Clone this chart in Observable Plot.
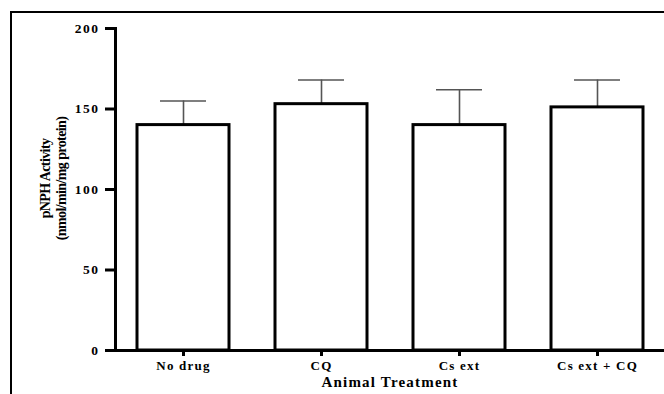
<!DOCTYPE html>
<html>
<head>
<meta charset="utf-8">
<script src="https://cdn.jsdelivr.net/npm/d3@7"></script>
<script src="https://cdn.jsdelivr.net/npm/@observablehq/plot@0.6"></script>
<style>
  html, body { margin: 0; padding: 0; background: #fff; overflow: hidden; }
  #wrap { position: relative; width: 664px; height: 394px; }
  #frame { position: absolute; left: 10px; top: 11px; width: 700px; height: 400px;
           border-left: 2.5px solid #000; border-top: 2.5px solid #000; box-sizing: border-box; }
  #chart { position: absolute; left: 0; top: 0; }
</style>
</head>
<body>
<div id="wrap"><div id="frame"></div><div id="chart"></div></div>
<script>
const categories = ["No drug", "CQ", "Cs ext", "Cs ext + CQ"];
const means = [140, 153, 140, 151];
const errors = [15, 15, 22, 17];
const yTicks = [0, 50, 100, 150, 200];
const yLabel = "pNPH Activity\n(nmol/min/mg protein)";
const xLabel = "Animal Treatment";

const data = categories.map((c, i) => ({cat: c, mean: means[i], top: means[i] + errors[i]}));

const chart = Plot.plot({
  width: 664,
  height: 394,
  marginLeft: 115,
  marginRight: 0,
  marginTop: 28,
  marginBottom: 44,
  style: {fontFamily: "'Liberation Serif', 'Times New Roman', serif", fontWeight: "bold", color: "#000", background: "transparent", overflow: "visible"},
  x: {domain: categories, range: [114, 666], paddingInner: 1/3, paddingOuter: 1/6, axis: null},
  y: {domain: [0, 200], axis: null},
  marks: [
    Plot.ruleX(data, {x: "cat", y1: "mean", y2: "top", stroke: "#555", strokeWidth: 1.6}),
    Plot.tickY(data, {x: "cat", y: "top", stroke: "#555", strokeWidth: 1.6, insetLeft: 23, insetRight: 23}),
    Plot.barY(data, {x: "cat", y: "mean", fill: "white", stroke: "#000", strokeWidth: 3}),
    Plot.ruleY([0], {stroke: "#000", strokeWidth: 3}),
    Plot.frame({anchor: "left", stroke: "#000", strokeWidth: 3}),
    Plot.axisY({ticks: yTicks, tickSize: 10, tickPadding: 6, strokeWidth: 3, fontSize: 13.5, label: null}),
    Plot.axisX({tickSize: 6, tickPadding: 4, strokeWidth: 3, fontSize: 13, label: null}),
    Plot.text([xLabel], {frameAnchor: "bottom", dy: 36, fontSize: 15, fontWeight: "bold", fill: "#000"}),
    Plot.text([yLabel], {frameAnchor: "left", dx: -63, dy: -11, rotate: -90, textAnchor: "middle", lineAnchor: "middle", fontSize: 14, lineHeight: 1.15, fontWeight: "bold", fill: "#000"})
  ]
});
document.getElementById("chart").appendChild(chart);
d3.select(chart).selectAll("g[aria-label='x-axis tick label'] text").style("letter-spacing", "1.2px");
d3.select(chart).selectAll("g[aria-label='y-axis tick label'] text").style("letter-spacing", "1.5px");
d3.select(chart).selectAll("g[aria-label='text'] text").style("letter-spacing", "1.2px");
d3.select(chart).selectAll("g[aria-label='text'] text").filter(function() { return this.querySelector("tspan"); }).style("letter-spacing", "-0.6px");
</script>
</body>
</html>
